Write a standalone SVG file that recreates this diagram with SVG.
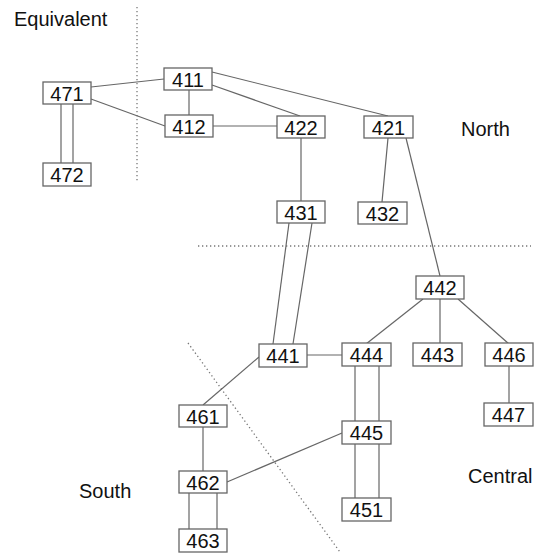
<svg xmlns="http://www.w3.org/2000/svg" width="534" height="553" viewBox="0 0 534 553">
<style>
.n rect{fill:#fff;stroke:#666;stroke-width:1.3}
.n text,.lbl{font-family:"Liberation Sans",Arial,sans-serif;font-size:20px;fill:#111}
.n text{text-anchor:middle}
#edges line{stroke:#666;stroke-width:1.2;fill:none}
.dot{stroke:#777;stroke-width:1.3;stroke-dasharray:1.3 2.7;fill:none}
</style>
<rect width="534" height="553" fill="#fff"/>
<g id="regions">
<line class="dot" x1="137" y1="7" x2="137" y2="183"/>
<line class="dot" x1="198" y1="246" x2="531" y2="246"/>
<line class="dot" x1="188" y1="343" x2="340" y2="552"/>
<text class="lbl" x="14" y="26">Equivalent</text>
<text class="lbl" x="461" y="136">North</text>
<text class="lbl" x="468" y="483">Central</text>
<text class="lbl" x="79" y="498">South</text>
</g>
<g id="edges">
<line x1="91" y1="87" x2="164" y2="79"/>
<line x1="91" y1="99" x2="165" y2="126"/>
<line x1="61" y1="104" x2="61" y2="163"/>
<line x1="73" y1="104" x2="73" y2="163"/>
<line x1="189" y1="90" x2="189" y2="115"/>
<line x1="213" y1="126" x2="277" y2="126"/>
<line x1="212" y1="85" x2="300" y2="116"/>
<line x1="212" y1="72" x2="388" y2="116"/>
<line x1="301" y1="138" x2="301" y2="201"/>
<line x1="388" y1="138" x2="382" y2="202"/>
<line x1="406" y1="138" x2="440" y2="276"/>
<line x1="289" y1="223" x2="273" y2="344"/>
<line x1="312" y1="223" x2="293" y2="344"/>
<line x1="307" y1="355" x2="342" y2="355"/>
<line x1="423" y1="299" x2="366" y2="344"/>
<line x1="440" y1="299" x2="440" y2="344"/>
<line x1="458" y1="299" x2="509" y2="344"/>
<line x1="509" y1="366" x2="509" y2="403"/>
<line x1="355" y1="366" x2="355" y2="421"/>
<line x1="379" y1="366" x2="379" y2="421"/>
<line x1="355" y1="444" x2="355" y2="498"/>
<line x1="379" y1="444" x2="379" y2="498"/>
<line x1="259" y1="357" x2="203" y2="405"/>
<line x1="203" y1="427" x2="203" y2="471"/>
<line x1="227" y1="482" x2="342" y2="433"/>
<line x1="189" y1="493" x2="189" y2="529"/>
<line x1="217" y1="493" x2="217" y2="529"/>
</g>
<g id="n471" class="n"><rect x="43" y="82" width="48" height="22"/><text x="67" y="101">471</text></g>
<g id="n472" class="n"><rect x="43" y="163" width="48" height="23"/><text x="67" y="182">472</text></g>
<g id="n411" class="n"><rect x="164" y="68" width="48" height="22"/><text x="188" y="87">411</text></g>
<g id="n412" class="n"><rect x="165" y="115" width="48" height="22"/><text x="189" y="134">412</text></g>
<g id="n422" class="n"><rect x="277" y="116" width="48" height="22"/><text x="301" y="135">422</text></g>
<g id="n421" class="n"><rect x="364" y="116" width="49" height="22"/><text x="388.5" y="135">421</text></g>
<g id="n431" class="n"><rect x="277" y="201" width="48" height="22"/><text x="301" y="220">431</text></g>
<g id="n432" class="n"><rect x="358" y="202" width="49" height="22"/><text x="382.5" y="221">432</text></g>
<g id="n442" class="n"><rect x="416" y="276" width="48" height="23"/><text x="440" y="295">442</text></g>
<g id="n441" class="n"><rect x="259" y="344" width="48" height="23"/><text x="283" y="363">441</text></g>
<g id="n444" class="n"><rect x="342" y="343" width="49" height="23"/><text x="366.5" y="362">444</text></g>
<g id="n443" class="n"><rect x="413" y="343" width="49" height="23"/><text x="437.5" y="362">443</text></g>
<g id="n446" class="n"><rect x="485" y="343" width="48" height="23"/><text x="509" y="362">446</text></g>
<g id="n447" class="n"><rect x="484" y="403" width="49" height="23"/><text x="508.5" y="422">447</text></g>
<g id="n445" class="n"><rect x="342" y="421" width="49" height="23"/><text x="366.5" y="440">445</text></g>
<g id="n451" class="n"><rect x="342" y="498" width="49" height="23"/><text x="366.5" y="517">451</text></g>
<g id="n461" class="n"><rect x="179" y="405" width="48" height="22"/><text x="203" y="424">461</text></g>
<g id="n462" class="n"><rect x="179" y="471" width="48" height="22"/><text x="203" y="490">462</text></g>
<g id="n463" class="n"><rect x="179" y="529" width="48" height="23"/><text x="203" y="548">463</text></g>
</svg>
